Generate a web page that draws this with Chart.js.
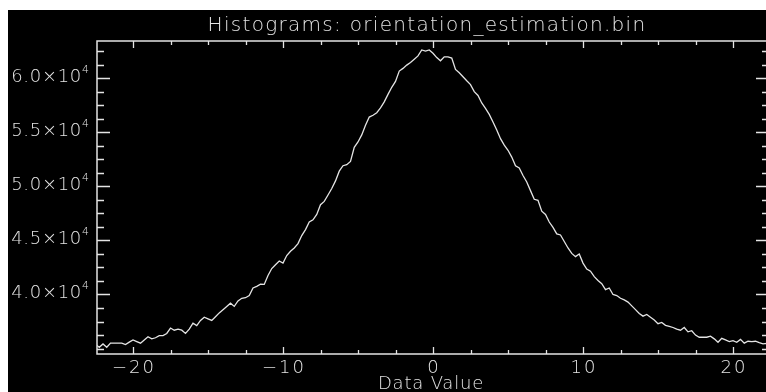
<!DOCTYPE html>
<html>
<head>
<meta charset="utf-8">
<script src="https://cdn.jsdelivr.net/npm/chart.js@4.4.1/dist/chart.umd.min.js"></script>
<style>
  html, body { margin: 0; padding: 0; background: #fff; overflow: hidden; }
  #frame { position: absolute; left: 8px; top: 10px; width: 764px; height: 382px; background: #000; }
</style>
</head>
<body>
<div id="frame"><canvas id="histogram-chart"></canvas></div>
<script>
const chartTitle = "Histograms: orientation_estimation.bin";
const xAxisTitle = "Data Value";

// bin centres and counts
const binCenters = [
  -22.5, -22.25, -22, -21.75, -21.5, -21.25, -21, -20.75,
  -20.5, -20.25, -20, -19.75, -19.5, -19.25, -19, -18.75,
  -18.5, -18.25, -18, -17.75, -17.5, -17.25, -17, -16.75,
  -16.5, -16.25, -16, -15.75, -15.5, -15.25, -15, -14.75,
  -14.5, -14.25, -14, -13.75, -13.5, -13.25, -13, -12.75,
  -12.5, -12.25, -12, -11.75, -11.5, -11.25, -11, -10.75,
  -10.5, -10.25, -10, -9.75, -9.5, -9.25, -9, -8.75,
  -8.5, -8.25, -8, -7.75, -7.5, -7.25, -7, -6.75,
  -6.5, -6.25, -6, -5.75, -5.5, -5.25, -5, -4.75,
  -4.5, -4.25, -4, -3.75, -3.5, -3.25, -3, -2.75,
  -2.5, -2.25, -2, -1.75, -1.5, -1.25, -1, -0.75,
  -0.5, -0.25, 0, 0.25, 0.5, 0.75, 1, 1.25,
  1.5, 1.75, 2, 2.25, 2.5, 2.75, 3, 3.25,
  3.5, 3.75, 4, 4.25, 4.5, 4.75, 5, 5.25,
  5.5, 5.75, 6, 6.25, 6.5, 6.75, 7, 7.25,
  7.5, 7.75, 8, 8.25, 8.5, 8.75, 9, 9.25,
  9.5, 9.75, 10, 10.25, 10.5, 10.75, 11, 11.25,
  11.5, 11.75, 12, 12.25, 12.5, 12.75, 13, 13.25,
  13.5, 13.75, 14, 14.25, 14.5, 14.75, 15, 15.25,
  15.5, 15.75, 16, 16.25, 16.5, 16.75, 17, 17.25,
  17.5, 17.75, 18, 18.25, 18.5, 18.75, 19, 19.25,
  19.5, 19.75, 20, 20.25, 20.5, 20.75, 21, 21.25,
  21.5, 21.75, 22, 22.25, 22.5
];
const binCounts = [
  35400, 35120, 35430, 35120, 35500, 35500, 35500, 35500,
  35370, 35600, 35800, 35650, 35500, 35800, 36100, 35900,
  36000, 36200, 36200, 36400, 36900, 36700, 36800, 36700,
  36400, 36800, 37350, 37130, 37600, 37900, 37750, 37600,
  37950, 38300, 38600, 38900, 39200, 38900, 39400, 39650,
  39700, 39900, 40600, 40750, 40950, 40930, 41760, 42400,
  42750, 43100, 42900, 43600, 44000, 44300, 44700, 45450,
  46000, 46700, 46900, 47400, 48300, 48600, 49200, 49800,
  50500, 51400, 51900, 52000, 52300, 53600, 54100, 54750,
  55650, 56400, 56570, 56800, 57250, 57800, 58500, 59150,
  59700, 60650, 60900, 61200, 61450, 61750, 62050, 62600,
  62500, 62600, 62300, 61900, 61600, 61970, 61970, 61850,
  60800, 60500, 60120, 59750, 59400, 58750, 58400, 57700,
  57200, 56650, 55950, 55200, 54400, 53800, 53330, 52700,
  51900, 51700, 51000, 50400, 49600, 48800, 48700, 47700,
  47400, 46700, 46200, 45600, 45500, 44900, 44300, 43800,
  43500, 43750, 42900, 42350, 42150, 41650, 41300, 41000,
  40450, 40600, 40000, 39900, 39650, 39500, 39300, 38950,
  38600, 38250, 38000, 38150, 37900, 37650, 37300, 37420,
  37150, 37050, 36950, 36800, 36700, 36950, 36550, 36650,
  36250, 36050, 36050, 36050, 36150, 35900, 35580, 35950,
  35800, 35650, 35740, 35580, 35850, 35500, 35680, 35650,
  35680, 35550, 35430, 35490, 35450
];

const xRange = [-22.4, 22.4];
const yRange = [34500, 63430];
const xMajorTicks = [-20, -10, 0, 10, 20];
const xMinorTicks = [-17.5, -15, -12.5, -7.5, -5, -2.5, 2.5, 5, 7.5, 12.5, 15, 17.5];
const yMajorTicks = [40000, 45000, 50000, 55000, 60000];
const yMinorTicks = [35000, 36250, 37500, 38750, 41250, 42500, 43750, 46250, 47500, 48750,
  51250, 52500, 53750, 56250, 57500, 58750, 61250, 62500];

const ink = "#e4e4e4";
const fontFamily = "'DejaVu Sans', sans-serif";

function formatXTick(value) {
  return value < 0 ? "\u2212" + Math.abs(value) : String(value);
}

function yMantissa(value) {
  return (value / 10000).toFixed(1) + "\u00d710";
}

// IDL-style box: axis lines on all four sides with inward ticks
const idlFrame = {
  id: "idlFrame",
  afterDatasetsDraw(chart) {
    const ctx = chart.ctx;
    const area = chart.chartArea;
    const xs = chart.scales.x;
    const ys = chart.scales.y;

    ctx.save();
    ctx.strokeStyle = ink;
    ctx.fillStyle = ink;
    ctx.lineWidth = 1.5;
    ctx.strokeRect(area.left, area.top, area.right - area.left, area.bottom - area.top);

    ctx.lineWidth = 1.3;
    ctx.beginPath();
    function xTick(value, len) {
      const px = Math.round(xs.getPixelForValue(value)) + 0.5;
      ctx.moveTo(px, area.bottom);
      ctx.lineTo(px, area.bottom - len);
      ctx.moveTo(px, area.top);
      ctx.lineTo(px, area.top + len);
    }
    function yTick(value, len) {
      const py = Math.round(ys.getPixelForValue(value)) + 0.5;
      ctx.moveTo(area.left, py);
      ctx.lineTo(area.left + len, py);
      ctx.moveTo(area.right, py);
      ctx.lineTo(area.right - len, py);
    }
    xMajorTicks.forEach(function (v) { xTick(v, 7); });
    xMinorTicks.forEach(function (v) { xTick(v, 4); });
    yMajorTicks.forEach(function (v) { yTick(v, 13); });
    yMinorTicks.forEach(function (v) { yTick(v, 7); });
    ctx.stroke();

    ctx.font = "200 18px " + fontFamily;
    ctx.textAlign = "center";
    ctx.textBaseline = "top";
    ctx.letterSpacing = "2px";
    xMajorTicks.forEach(function (v) {
      ctx.fillText(formatXTick(v), xs.getPixelForValue(v) + 1, area.bottom + 5);
    });
    ctx.letterSpacing = "0.8px";
    ctx.fillText(xAxisTitle, (area.left + area.right) / 2 - 2, area.bottom + 21);

    yMajorTicks.forEach(function (v) {
      const py = ys.getPixelForValue(v);
      ctx.font = "200 18px " + fontFamily;
      ctx.letterSpacing = "0.7px";
      ctx.textAlign = "right";
      ctx.textBaseline = "middle";
      ctx.fillText(yMantissa(v), 74, py - 1);
      ctx.font = "200 11px " + fontFamily;
      ctx.letterSpacing = "0px";
      ctx.textAlign = "left";
      ctx.fillText("4", 74, py - 8);
    });

    ctx.font = "200 20px " + fontFamily;
    ctx.letterSpacing = "1.3px";
    ctx.textAlign = "center";
    ctx.textBaseline = "middle";
    ctx.fillText(chartTitle, (area.left + area.right) / 2 - 6, 16);
    ctx.restore();
  }
};

const points = binCenters.map(function (x, i) {
  return { x: x, y: binCounts[i] };
});

new Chart(document.getElementById("histogram-chart"), {
  type: "line",
  data: {
    datasets: [{
      label: "counts",
      data: points,
      borderColor: ink,
      borderWidth: 1.3,
      pointRadius: 0,
      tension: 0,
      fill: false,
    }],
  },
  options: {
    responsive: true,
    maintainAspectRatio: false,
    animation: false,
    layout: { padding: { left: 89, top: 31, right: 3, bottom: 38 } },
    plugins: {
      legend: { display: false },
      tooltip: { enabled: false },
    },
    scales: {
      x: { type: "linear", min: xRange[0], max: xRange[1], display: false },
      y: { type: "linear", min: yRange[0], max: yRange[1], display: false },
    },
  },
  plugins: [idlFrame],
});
</script>
</body>
</html>
